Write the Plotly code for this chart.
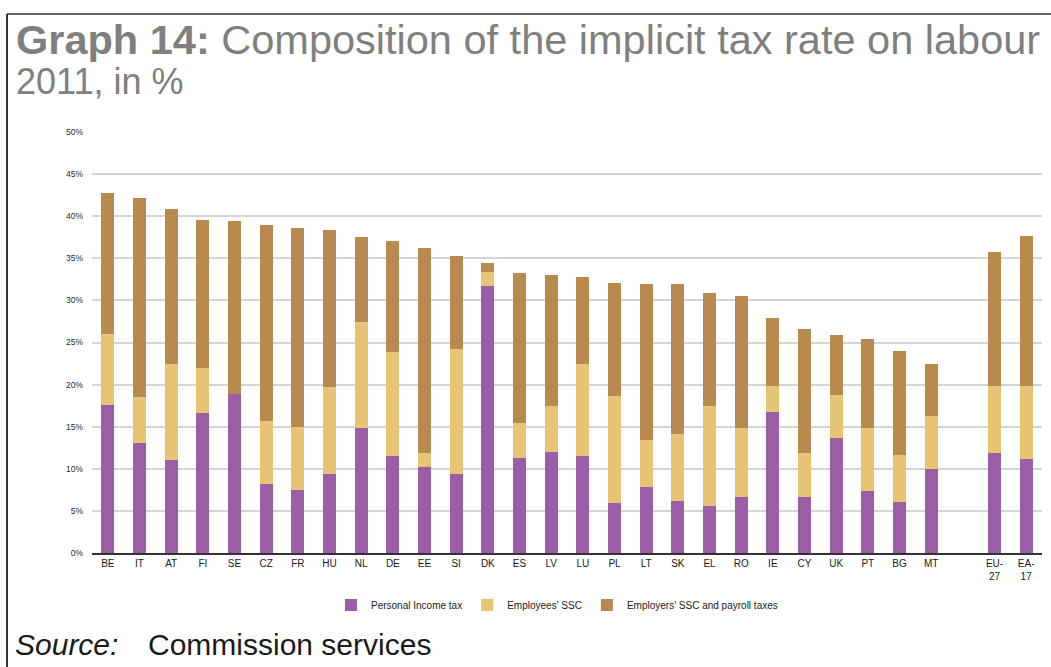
import plotly.graph_objects as go

countries = ["BE", "IT", "AT", "FI", "SE", "CZ", "FR", "HU", "NL", "DE", "EE", "SI", "DK", "ES",
             "LV", "LU", "PL", "LT", "SK", "EL", "RO", "IE", "CY", "UK", "PT", "BG", "MT"]
aggregates = ["EU-27", "EA-17"]
gap_label = " "
categories = countries + [gap_label] + aggregates

personal_income_tax = [17.6, 13.1, 11.1, 16.6, 18.9, 8.2, 7.5, 9.4, 14.8, 11.5, 10.2, 9.4, 31.7, 11.3,
                       12.0, 11.5, 5.9, 7.8, 6.2, 5.6, 6.7, 16.8, 6.7, 13.7, 7.4, 6.0, 10.0,
                       None, 11.9, 11.2]
employees_ssc = [8.4, 5.4, 11.4, 5.4, 0.0, 7.5, 7.5, 10.3, 12.6, 12.4, 1.7, 14.8, 1.7, 4.1,
                 5.5, 11.0, 12.7, 5.6, 7.9, 11.8, 8.1, 3.0, 5.2, 5.1, 7.5, 5.6, 6.3,
                 None, 7.9, 8.6]
employers_ssc = [16.8, 23.7, 18.4, 17.6, 20.5, 23.3, 23.6, 18.7, 10.1, 13.2, 24.3, 11.1, 1.1, 17.8,
                 15.5, 10.3, 13.5, 18.6, 17.8, 13.5, 15.7, 8.1, 14.7, 7.1, 10.5, 12.4, 6.2,
                 None, 15.9, 17.8]

tick_text = [c.replace("-", "-<br>") for c in categories]

series = [
    ("Personal Income tax", personal_income_tax, "#9a5ea6"),
    ("Employees' SSC", employees_ssc, "#e6c474"),
    ("Employers' SSC and payroll taxes", employers_ssc, "#b98a4f"),
]

W, H = 1051, 667
L, R, T, B = 92, 9, 132, 114
PW, PH = W - L - R, H - T - B


def px(x):
    return (x - L) / PW


def py(y):
    return (H - B - y) / PH


fig = go.Figure()
for name, vals, color in series:
    fig.add_trace(go.Bar(x=categories, y=vals, name=name, marker=dict(color=color, line=dict(width=0))))

fig.update_layout(
    width=W, height=H, autosize=False,
    margin=dict(l=L, r=R, t=T, b=B, pad=0),
    barmode="stack", bargap=0.59,
    plot_bgcolor="white", paper_bgcolor="white",
    font=dict(family="Liberation Sans, Arial, sans-serif", color="#222222"),
    xaxis=dict(
        type="category", categoryorder="array", categoryarray=categories,
        tickvals=categories, ticktext=tick_text,
        tickfont=dict(size=10, color="#1a1a1a"),
        showline=True, linecolor="#333333", linewidth=2,
        ticks="", showgrid=False, fixedrange=True,
    ),
    yaxis=dict(
        range=[0, 50], dtick=5, ticksuffix="%",
        tickfont=dict(size=8.5, color="#2a2a2a"),
        showgrid=True, gridcolor="#d4d4d4", gridwidth=1.5,
        zeroline=False, showline=False, ticks="", ticklabelstandoff=8,
        fixedrange=True,
    ),
    legend=dict(
        orientation="h", x=px(557), xanchor="center", y=py(605), yanchor="middle",
        font=dict(size=10, color="#1a1a1a"), itemwidth=30, traceorder="normal",
        bgcolor="rgba(0,0,0,0)",
    ),
    showlegend=True,
)

fig.add_annotation(
    text="<b>Graph 14:</b> Composition of the implicit tax rate on labour",
    xref="paper", yref="paper", x=px(14), y=py(14), xanchor="left", yanchor="top",
    showarrow=False, font=dict(size=41.5, color="#7f7f7f"),
)
fig.add_annotation(
    text="2011, in %",
    xref="paper", yref="paper", x=px(14), y=py(59), xanchor="left", yanchor="top",
    showarrow=False, font=dict(size=36, color="#7f7f7f"),
)
fig.add_annotation(
    text="<i>Source:</i>",
    xref="paper", yref="paper", x=px(13), y=py(626), xanchor="left", yanchor="top",
    showarrow=False, font=dict(size=30, color="#1a1a1a"),
)
fig.add_annotation(
    text="Commission services",
    xref="paper", yref="paper", x=px(146), y=py(626), xanchor="left", yanchor="top",
    showarrow=False, font=dict(size=30, color="#1a1a1a"),
)

fig.add_shape(type="line", xref="paper", yref="paper", x0=px(7), x1=px(W), y0=py(14), y1=py(14),
              line=dict(color="#666666", width=2))
fig.add_shape(type="line", xref="paper", yref="paper", x0=px(7), x1=px(7), y0=py(14), y1=py(H),
              line=dict(color="#333333", width=2))

fig.write_html("out.html", config={"displayModeBar": False},
               post_script="document.body.style.margin='0';")
